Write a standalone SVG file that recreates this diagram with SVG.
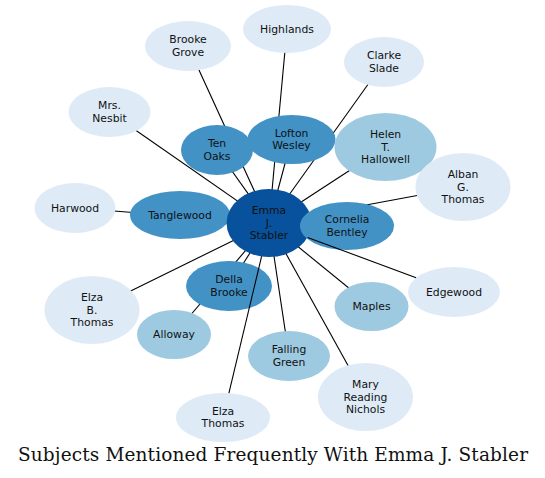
<svg xmlns="http://www.w3.org/2000/svg" width="545" height="478" viewBox="0 0 545 478">
<style>
.edge{stroke:#000;stroke-width:1.1;fill:none}
.node text{font-family:"DejaVu Sans",Verdana,sans-serif;font-size:10.8px;fill:#111;text-anchor:middle}
.dark{fill:#08519c}
.mid{fill:#4292c6}
.lm{fill:#9ecae1}
.light{fill:#deebf7}
.title{font-family:"DejaVu Serif","Liberation Serif",serif;font-size:18.5px;fill:#111;text-anchor:middle}
</style>
<rect width="545" height="478" fill="#fff"/>
<g id="edges-under">
<line class="edge" x1="269" y1="223" x2="180" y2="215"/>
<line class="edge" x1="269" y1="223" x2="75" y2="208"/>
<line class="edge" x1="269" y1="223" x2="109.5" y2="112"/>
<line class="edge" x1="269" y1="223" x2="188" y2="46"/>
<line class="edge" x1="269" y1="223" x2="217" y2="150"/>
<line class="edge" x1="269" y1="223" x2="287" y2="29"/>
<line class="edge" x1="269" y1="223" x2="291.5" y2="139.5"/>
<line class="edge" x1="269" y1="223" x2="384" y2="62"/>
<line class="edge" x1="269" y1="223" x2="385.5" y2="147"/>
<line class="edge" x1="269" y1="223" x2="463" y2="187"/>
<line class="edge" x1="269" y1="223" x2="347" y2="226"/>
<line class="edge" x1="269" y1="223" x2="371.5" y2="306.5"/>
<line class="edge" x1="269" y1="223" x2="289" y2="356"/>
<line class="edge" x1="269" y1="223" x2="365.5" y2="397"/>
<line class="edge" x1="269" y1="223" x2="174" y2="334.5"/>
<line class="edge" x1="269" y1="223" x2="229" y2="286"/>
<line class="edge" x1="269" y1="223" x2="92" y2="310"/>
</g>
<g id="n-tanglewood" class="node"><ellipse class="mid" cx="180" cy="215" rx="50" ry="24"/><text x="180" y="218.5">Tanglewood</text></g>
<g id="n-harwood" class="node"><ellipse class="light" cx="75" cy="208" rx="40.5" ry="25"/><text x="75" y="211.5">Harwood</text></g>
<g id="n-nesbit" class="node"><ellipse class="light" cx="109.5" cy="112" rx="41" ry="25"/><text x="109.5" y="109.4">Mrs.</text><text x="109.5" y="121.6">Nesbit</text></g>
<g id="n-brookegrove" class="node"><ellipse class="light" cx="188" cy="46" rx="43" ry="25"/><text x="188" y="43.4">Brooke</text><text x="188" y="55.6">Grove</text></g>
<g id="n-tenoaks" class="node"><ellipse class="mid" cx="217" cy="150" rx="36" ry="25"/><text x="217" y="147.4">Ten</text><text x="217" y="159.6">Oaks</text></g>
<g id="n-highlands" class="node"><ellipse class="light" cx="287" cy="29" rx="44" ry="24"/><text x="287" y="32.5">Highlands</text></g>
<g id="n-lofton" class="node"><ellipse class="mid" cx="291.5" cy="139.5" rx="44" ry="24.5"/><text x="291.5" y="136.9">Lofton</text><text x="291.5" y="149.1">Wesley</text></g>
<g id="n-clarke" class="node"><ellipse class="light" cx="384" cy="62" rx="40" ry="25"/><text x="384" y="59.4">Clarke</text><text x="384" y="71.6">Slade</text></g>
<g id="n-helen" class="node"><ellipse class="lm" cx="385.5" cy="147" rx="51" ry="34"/><text x="385.5" y="138.3">Helen</text><text x="385.5" y="150.5">T.</text><text x="385.5" y="162.7">Hallowell</text></g>
<g id="n-alban" class="node"><ellipse class="light" cx="463" cy="187" rx="47.5" ry="34"/><text x="463" y="178.3">Alban</text><text x="463" y="190.5">G.</text><text x="463" y="202.7">Thomas</text></g>
<g id="n-edgewood" class="node"><ellipse class="light" cx="454" cy="292" rx="46" ry="25"/><text x="454" y="295.5">Edgewood</text></g>
<g id="n-maples" class="node"><ellipse class="lm" cx="371.5" cy="306.5" rx="37" ry="24.5"/><text x="371.5" y="310">Maples</text></g>
<g id="n-fallinggreen" class="node"><ellipse class="lm" cx="289" cy="356" rx="41" ry="25"/><text x="289" y="353.4">Falling</text><text x="289" y="365.6">Green</text></g>
<g id="n-mary" class="node"><ellipse class="light" cx="365.5" cy="397" rx="47.5" ry="34"/><text x="365.5" y="388.3">Mary</text><text x="365.5" y="400.5">Reading</text><text x="365.5" y="412.7">Nichols</text></g>
<g id="n-elzathomas" class="node"><ellipse class="light" cx="223" cy="417.5" rx="47" ry="24.5"/><text x="223" y="414.9">Elza</text><text x="223" y="427.1">Thomas</text></g>
<g id="n-alloway" class="node"><ellipse class="lm" cx="174" cy="334.5" rx="37" ry="24.5"/><text x="174" y="338">Alloway</text></g>
<g id="n-della" class="node"><ellipse class="mid" cx="229" cy="286" rx="43" ry="25"/><text x="229" y="283.4">Della</text><text x="229" y="295.6">Brooke</text></g>
<g id="n-elzab" class="node"><ellipse class="light" cx="92" cy="310" rx="47.5" ry="34"/><text x="92" y="301.3">Elza</text><text x="92" y="313.5">B.</text><text x="92" y="325.7">Thomas</text></g>
<g id="n-emma" class="node"><ellipse class="dark" cx="269" cy="223" rx="42.5" ry="34"/><text x="269" y="214.3">Emma</text><text x="269" y="226.5">J.</text><text x="269" y="238.7">Stabler</text></g>
<g id="n-cornelia" class="node"><ellipse class="mid" cx="347" cy="226" rx="47" ry="24"/><text x="347" y="223.4">Cornelia</text><text x="347" y="235.6">Bentley</text></g>
<g id="edges-over">
<line class="edge" x1="261.6" y1="256.3" x2="228.9" y2="393.2"/>
<line class="edge" x1="307.6" y1="237.4" x2="416.1" y2="277.8"/>
</g>
<text class="title" x="273" y="461" textLength="510" lengthAdjust="spacing">Subjects Mentioned Frequently With Emma J. Stabler</text>
</svg>
